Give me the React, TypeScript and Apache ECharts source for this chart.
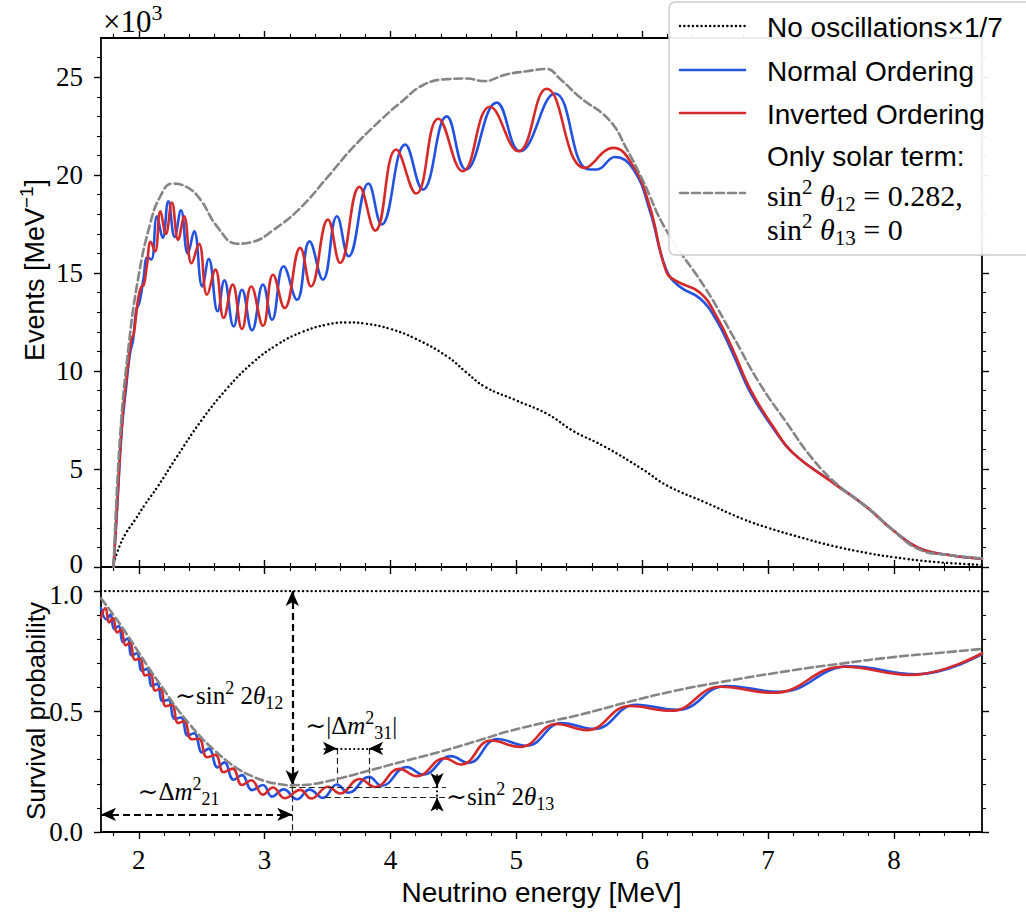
import React, { useEffect, useRef } from "react";
import * as echarts from "echarts";

// ---------------- data ----------------
const energyTicks = [2, 3, 4, 5, 6, 7, 8];
const eventTicks = [0, 5, 10, 15, 20, 25];
const probTicks = [0, 0.5, 1];

// top panel: events (x 10^3 per MeV)
const noOscEvents = [
  [1.79, 0], [1.85, 1.1], [1.9, 1.75], [1.97, 2.4], [2.05, 3.2], [2.15, 4.1], [2.3, 5.6], [2.5, 7.5],
  [2.7, 9.1], [2.9, 10.4], [3.1, 11.35], [3.3, 12.0], [3.5, 12.38], [3.65, 12.48], [3.8, 12.42],
  [4.0, 12.15], [4.2, 11.65], [4.45, 10.75], [4.6, 9.95], [4.75, 9.2], [5.0, 8.5], [5.25, 7.8],
  [5.45, 6.95], [5.7, 6.15], [6.0, 5.0], [6.2, 4.15], [6.5, 3.3], [6.8, 2.45], [7.0, 2.0],
  [7.25, 1.53], [7.5, 1.1], [7.8, 0.7], [8.0, 0.5], [8.3, 0.27], [8.7, 0.1],
];
const normalEvents = [
  [1.8, 0], [1.83, 3.2], [1.865, 7.0], [1.9, 9.2], [1.93, 10.9], [1.955, 11.6], [1.98, 13.1],
  [2.005, 13.5], [2.035, 14.6], [2.07, 15.8], [2.1, 15.7], [2.145, 17.9], [2.19, 16.8],
  [2.235, 18.67], [2.285, 16.85], [2.335, 18.2], [2.39, 16.0], [2.44, 17.13], [2.505, 14.32],
  [2.556, 15.72], [2.627, 13.05], [2.68, 14.63], [2.754, 12.28], [2.82, 14.15], [2.9, 12.08],
  [2.987, 14.41], [3.059, 12.62], [3.151, 15.35], [3.257, 13.64], [3.357, 16.62], [3.463, 14.67],
  [3.575, 17.9], [3.667, 15.86], [3.825, 19.57], [3.93, 17.48], [4.117, 21.56], [4.257, 19.26],
  [4.447, 23.0], [4.6, 20.29], [4.844, 23.7], [5.03, 21.22], [5.307, 24.17], [5.56, 20.32],
  [5.64, 20.29], [5.783, 20.93], [5.93, 20.3], [6.06, 18.2], [6.19, 15.2], [6.3, 14.3],
  [6.46, 13.7], [6.59, 12.6], [6.72, 10.9], [6.86, 8.9], [7.04, 7.1], [7.2, 5.8], [7.52, 4.3],
  [7.78, 3.08], [7.99, 1.9], [8.2, 0.96], [8.44, 0.61], [8.7, 0.42],
];
const invertedEvents = [
  [1.8, 0], [1.83, 3.4], [1.865, 7.2], [1.9, 9.5], [1.94, 11.6], [1.96, 11.9], [1.995, 13.7],
  [2.02, 14.3], [2.04, 14.4], [2.065, 15.4], [2.095, 16.6], [2.13, 16.1], [2.172, 18.16],
  [2.215, 17.0], [2.263, 18.6], [2.313, 16.7], [2.36, 17.9], [2.42, 15.5], [2.478, 16.5],
  [2.543, 13.9], [2.609, 15.18], [2.675, 12.71], [2.746, 14.41], [2.82, 12.15], [2.894, 14.32],
  [2.987, 12.31], [3.067, 14.92], [3.159, 13.22], [3.283, 16.29], [3.368, 14.32], [3.503, 17.73],
  [3.6, 15.52], [3.754, 19.4], [3.879, 17.17], [4.045, 21.31], [4.204, 19.06], [4.38, 22.88],
  [4.575, 20.2], [4.79, 23.49], [5.016, 21.22], [5.241, 24.41], [5.545, 20.37], [5.77, 21.39],
  [5.93, 20.45], [6.06, 18.4], [6.19, 15.1], [6.27, 14.6], [6.46, 14.0], [6.59, 12.8],
  [6.72, 11.1], [6.86, 9.05], [7.04, 7.17], [7.2, 5.81], [7.52, 4.28], [7.78, 3.08], [7.99, 1.89],
  [8.2, 0.96], [8.44, 0.61], [8.7, 0.42],
];
const solarEvents = [
  [1.8, 0], [1.85, 6.5], [1.92, 11.3], [2.0, 14.9], [2.09, 17.5], [2.17, 18.9], [2.265, 19.57],
  [2.38, 19.4], [2.49, 18.75], [2.62, 17.4], [2.78, 16.5], [2.91, 16.6], [3.07, 17.2], [3.28, 18.3],
  [3.5, 19.9], [3.7, 21.4], [3.92, 22.8], [4.08, 23.7], [4.26, 24.6], [4.45, 24.9], [4.61, 24.93],
  [4.74, 24.8], [4.92, 25.14], [5.08, 25.3], [5.24, 25.42], [5.35, 24.9], [5.5, 24.0], [5.74, 22.8],
  [5.88, 21.3], [6.0, 19.8], [6.19, 17.2], [6.51, 14.15], [6.72, 11.8], [6.93, 9.4], [7.15, 7.34],
  [7.36, 5.47], [7.57, 4.1], [7.78, 3.08], [7.99, 1.9], [8.2, 0.9], [8.44, 0.61], [8.7, 0.44],
];

// bottom panel: survival probability
const noOscProb = [[1.7, 1], [8.7, 1]];
const normalProb = [
  [1.7, 0.93], [1.745, 0.882], [1.775, 0.903], [1.805, 0.842], [1.84, 0.855], [1.875, 0.788],
  [1.91, 0.803], [1.945, 0.733], [1.985, 0.742], [2.025, 0.67], [2.066, 0.677], [2.105, 0.606],
  [2.145, 0.615], [2.19, 0.543], [2.235, 0.549], [2.285, 0.47], [2.335, 0.475], [2.39, 0.4],
  [2.44, 0.41], [2.505, 0.33], [2.556, 0.346], [2.627, 0.268], [2.68, 0.289], [2.754, 0.217],
  [2.82, 0.236], [2.9, 0.174], [2.987, 0.195], [3.059, 0.147], [3.151, 0.177], [3.257, 0.136],
  [3.357, 0.176], [3.463, 0.142], [3.575, 0.197], [3.667, 0.163], [3.83, 0.229], [3.93, 0.192],
  [4.13, 0.27], [4.26, 0.238], [4.48, 0.315], [4.62, 0.287], [4.85, 0.386], [5.08, 0.358],
  [5.36, 0.452], [5.62, 0.428], [5.95, 0.528], [6.28, 0.507], [6.67, 0.606], [7.09, 0.582],
  [7.65, 0.688], [8.18, 0.655], [8.7, 0.738],
];
const invertedProb = [
  [1.7, 0.89], [1.735, 0.93], [1.765, 0.87], [1.795, 0.888], [1.828, 0.828], [1.86, 0.84],
  [1.895, 0.775], [1.93, 0.785], [1.97, 0.715], [2.01, 0.72], [2.05, 0.65], [2.093, 0.655],
  [2.13, 0.587], [2.172, 0.595], [2.215, 0.522], [2.263, 0.528], [2.313, 0.452], [2.36, 0.46],
  [2.42, 0.385], [2.478, 0.387], [2.543, 0.31], [2.609, 0.32], [2.675, 0.248], [2.746, 0.263],
  [2.82, 0.195], [2.894, 0.215], [2.987, 0.155], [3.067, 0.185], [3.159, 0.14], [3.283, 0.175],
  [3.37, 0.139], [3.503, 0.188], [3.6, 0.16], [3.754, 0.22], [3.879, 0.187], [4.07, 0.262],
  [4.21, 0.232], [4.43, 0.306], [4.56, 0.28], [4.8, 0.38], [5.03, 0.353], [5.32, 0.448],
  [5.56, 0.423], [5.9, 0.523], [6.23, 0.503], [6.62, 0.603], [7.04, 0.578], [7.6, 0.686],
  [8.13, 0.652], [8.7, 0.742],
];
const solarProb = [
  [1.7, 0.97], [1.8, 0.9], [1.9, 0.825], [2.0, 0.745], [2.1, 0.665], [2.2, 0.59], [2.3, 0.515],
  [2.4, 0.45], [2.5, 0.39], [2.6, 0.34], [2.7, 0.295], [2.8, 0.258], [2.9, 0.232], [3.0, 0.212],
  [3.1, 0.2], [3.2, 0.194], [3.3, 0.195], [3.4, 0.2], [3.6, 0.223], [3.81, 0.252], [4.1, 0.293],
  [4.394, 0.333], [4.7, 0.38], [4.952, 0.42], [5.25, 0.457], [5.509, 0.487], [5.898, 0.541],
  [6.25, 0.585], [6.622, 0.622], [7.18, 0.67], [7.597, 0.7], [8.013, 0.727], [8.35, 0.743],
  [8.7, 0.76],
];

// annotation geometry (data coordinates of the lower panel)
const annThickArrows = [
  [[3.22, 1.0], [3.22, 0.194]],
  [[1.7, 0.073], [3.22, 0.073]],
];
const annThinLines = [
  [[3.22, 0.19], [3.22, 0.0]],
  [[3.575, 0.347], [3.575, 0.187]],
  [[3.83, 0.347], [3.83, 0.187]],
  [[3.2, 0.187], [4.44, 0.187]],
  [[3.48, 0.143], [4.44, 0.143]],
];
const annShortArrows = [
  [[3.47, 0.347], [3.575, 0.347]],
  [[3.94, 0.347], [3.83, 0.347]],
  [[4.37, 0.24], [4.37, 0.187]],
  [[4.37, 0.09], [4.37, 0.143]],
];
const annDotted = [
  [[3.575, 0.347], [3.83, 0.347]],
  [[4.37, 0.187], [4.37, 0.143]],
];

// ---------------- styling ----------------
const SERIF = "'Liberation Serif', 'DejaVu Serif', serif";
const SANS = "'Liberation Sans', 'DejaVu Sans', sans-serif";
const BLUE = "#2352e0";
const RED = "#d62a2a";
const GRAY = "#858585";
const DOTS = [0.1, 4.2];

const axisLineStyle = { color: "#000", width: 1.8 };

function xAxisOpt(gridIndex: number, position: string, labels: boolean) {
  return {
    type: "value",
    gridIndex,
    position,
    min: 1.7,
    max: 8.7,
    minInterval: 1,
    maxInterval: 1,
    axisLine: { show: true, onZero: false, lineStyle: axisLineStyle },
    axisTick: { show: true, inside: false, length: 7, customValues: energyTicks, lineStyle: { color: "#000", width: 1.4 } },
    minorTick: { show: true, splitNumber: 5, length: 4, lineStyle: { color: "#000", width: 1.1 } },
    axisLabel: {
      show: labels,
      customValues: energyTicks,
      margin: 17,
      color: "#000",
      fontFamily: SERIF,
      fontSize: 27,
      lineHeight: 22,
      formatter: (v: number) => String(v),
    },
    splitLine: { show: false },
    minorSplitLine: { show: false },
  };
}

function yAxisOpt(gridIndex: number, position: string, labels: boolean, max: number, step: number, ticks: number[], fmt: (v: number) => string, rich: any) {
  return {
    type: "value",
    gridIndex,
    position,
    min: 0,
    max,
    minInterval: step,
    maxInterval: step,
    axisLine: { show: true, onZero: false, lineStyle: axisLineStyle },
    axisTick: { show: true, inside: false, length: 7, customValues: ticks, lineStyle: { color: "#000", width: 1.4 } },
    minorTick: { show: true, splitNumber: 5, length: 4, lineStyle: { color: "#000", width: 1.1 } },
    axisLabel: {
      show: labels,
      customValues: ticks,
      margin: 18,
      color: "#000",
      fontFamily: SERIF,
      fontSize: 27,
      lineHeight: 21,
      formatter: fmt,
      rich,
    },
    splitLine: { show: false },
    minorSplitLine: { show: false },
  };
}

function lineSeries(name: string, data: number[][], gi: number, color: string, width: number, type: any, z: number) {
  return {
    name,
    type: "line",
    data,
    xAxisIndex: gi * 2,
    yAxisIndex: gi * 2,
    showSymbol: false,
    symbol: "none",
    smooth: 0.45,
    clip: true,
    silent: true,
    lineStyle: { color, width, type, cap: "round" },
    emphasis: { disabled: true },
    z,
  };
}

function markSeries(lines: number[][][], style: any, symbol: any, symbolSize: any) {
  return {
    type: "line",
    data: [],
    xAxisIndex: 2,
    yAxisIndex: 2,
    silent: true,
    z: 10,
    markLine: {
      silent: true,
      animation: false,
      symbol,
      symbolSize,
      label: { show: false },
      emphasis: { disabled: true },
      lineStyle: style,
      data: lines.map((l) => [{ coord: l[0] }, { coord: l[1] }]),
    },
  };
}

const labelRich = {
  up: { fontFamily: SERIF, fontSize: 27, color: "#000", padding: [0, 0, 7, 0] },
  down: { fontFamily: SERIF, fontSize: 27, color: "#000", padding: [7, 0, 0, 0] },
};

function buildOption() {
  return {
    animation: false,
    backgroundColor: "#fff",
    textStyle: { fontFamily: SANS },
    grid: [
      { left: 101, top: 38, width: 881, height: 529, containLabel: false, outerBoundsMode: "none" },
      { left: 101, top: 567, width: 881, height: 265, containLabel: false, outerBoundsMode: "none" },
    ],
    xAxis: [
      xAxisOpt(0, "bottom", false),
      xAxisOpt(0, "top", false),
      xAxisOpt(1, "bottom", true),
      xAxisOpt(1, "top", false),
    ],
    yAxis: [
      yAxisOpt(0, "left", true, 27, 5, eventTicks, (v: number) => (v === 0 ? "{up|0}" : String(v)), labelRich),
      yAxisOpt(0, "right", false, 27, 5, eventTicks, (v: number) => String(v), labelRich),
      yAxisOpt(1, "left", true, 1.1, 0.5, probTicks, (v: number) => (v === 1 ? "{down|1.0}" : v.toFixed(1)), labelRich),
      yAxisOpt(1, "right", false, 1.1, 0.5, probTicks, (v: number) => v.toFixed(1), labelRich),
    ],
    series: [
      lineSeries("No oscillations×1/7", noOscEvents, 0, "#000", 2.4, DOTS, 2),
      lineSeries("Normal Ordering", normalEvents, 0, BLUE, 2.6, "solid", 3),
      lineSeries("Inverted Ordering", invertedEvents, 0, RED, 2.6, "solid", 4),
      lineSeries("Only solar term", solarEvents, 0, GRAY, 2.6, [8, 4], 5),
      lineSeries("No oscillations", noOscProb, 1, "#000", 2.4, DOTS, 2),
      lineSeries("Normal Ordering P", normalProb, 1, BLUE, 2.6, "solid", 3),
      lineSeries("Inverted Ordering P", invertedProb, 1, RED, 2.6, "solid", 4),
      lineSeries("Only solar term P", solarProb, 1, GRAY, 2.6, [8, 4], 5),
      markSeries(annThickArrows, { color: "#000", width: 2.2, type: [7, 4] }, ["arrow", "arrow"], [10, 15]),
      markSeries(annThinLines, { color: "#222", width: 1.2, type: [6, 3.5] }, ["none", "none"], 0),
      markSeries(annShortArrows, { color: "#000", width: 1.6, type: "solid" }, ["none", "arrow"], [10, 14]),
      markSeries(annDotted, { color: "#000", width: 2.2, type: DOTS, cap: "round" }, ["none", "none"], 0),
    ],
  };
}

const mathRich = (size: number) => ({
  r: { fontFamily: SERIF, fontSize: size, lineHeight: size + 8, verticalAlign: "middle" },
  i: { fontFamily: SERIF, fontSize: size, fontStyle: "italic", lineHeight: size + 8, verticalAlign: "middle" },
  sup: { fontFamily: SERIF, fontSize: Math.round(size * 0.7), lineHeight: Math.round(size * 0.75), verticalAlign: "top" },
  sub: { fontFamily: SERIF, fontSize: Math.round(size * 0.7), lineHeight: Math.round(size * 0.75), verticalAlign: "bottom" },
});

function buildGraphics(toPx: (p: number[]) => number[]) {
  const ann = (pt: number[], text: string, align: string) => {
    const [x, y] = toPx(pt);
    return {
      type: "text",
      x,
      y,
      z: 50,
      silent: true,
      style: { text, rich: mathRich(25), fill: "#000", fontFamily: SERIF, fontSize: 25, align, verticalAlign: "middle" },
    };
  };
  const legendText = (y: number, text: string) => ({
    type: "text",
    x: 767,
    y,
    z: 101,
    silent: true,
    style: { text, fill: "#000", fontFamily: SANS, fontSize: 28, align: "left", verticalAlign: "middle" },
  });
  const legendMath = (y: number, text: string) => ({
    type: "text",
    x: 767,
    y,
    z: 101,
    silent: true,
    style: { text, rich: mathRich(30), fill: "#000", fontFamily: SERIF, fontSize: 30, align: "left", verticalAlign: "middle" },
  });
  const sample = (y: number, stroke: string, lineWidth: number, lineDash: any) => ({
    type: "line",
    z: 101,
    silent: true,
    shape: { x1: 680, y1: y, x2: 745, y2: y },
    style: { stroke, lineWidth, lineDash, lineCap: "round" },
  });
  return [
    // annotation texts
    ann([3.148, 0.568], "{r|∼sin}{sup|2}{r| 2}{i|θ}{sub|12}", "right"),
    ann([1.99, 0.168], "{r|∼Δ}{i|m}{sup|2}{sub|21}", "left"),
    ann([3.323, 0.444], "{r|∼|Δ}{i|m}{sup|2}{sub|31}{r||}", "left"),
    ann([4.442, 0.146], "{r|∼sin}{sup|2}{r| 2}{i|θ}{sub|13}", "left"),
    // axis titles
    {
      type: "text",
      x: 35,
      y: 270,
      rotation: Math.PI / 2,
      z: 50,
      silent: true,
      style: {
        text: "{s|Events [MeV}{sp|−1}{s|]}",
        rich: {
          s: { fontFamily: SANS, fontSize: 27, lineHeight: 36, verticalAlign: "middle" },
          sp: { fontFamily: SANS, fontSize: 19, lineHeight: 20, verticalAlign: "top" },
        },
        fill: "#000",
        align: "center",
        verticalAlign: "middle",
      },
    },
    {
      type: "text",
      x: 36,
      y: 711,
      rotation: Math.PI / 2,
      z: 50,
      silent: true,
      style: { text: "Survival probability", fill: "#000", fontFamily: SANS, fontSize: 26, align: "center", verticalAlign: "middle" },
    },
    {
      type: "text",
      x: 541.5,
      y: 892,
      z: 50,
      silent: true,
      style: { text: "Neutrino energy [MeV]", fill: "#000", fontFamily: SANS, fontSize: 28, lineHeight: 26, align: "center", verticalAlign: "middle" },
    },
    {
      type: "text",
      x: 103,
      y: 21,
      z: 50,
      silent: true,
      style: { text: "{r|×10}{sup|3}", rich: mathRich(31), fill: "#000", fontFamily: SERIF, fontSize: 31, align: "left", verticalAlign: "middle" },
    },
    // legend
    {
      type: "rect",
      z: 100,
      silent: true,
      shape: { x: 669, y: 2, width: 400, height: 253, r: 6 },
      style: { fill: "rgba(255,255,255,0.93)", stroke: "#cccccc", lineWidth: 1.5 },
    },
    sample(26, "#000", 2.4, DOTS),
    sample(70, BLUE, 2.6, null),
    sample(113, RED, 2.6, null),
    sample(193, GRAY, 2.6, [8, 4]),
    legendText(27, "No oscillations×1/7"),
    legendText(71, "Normal Ordering"),
    legendText(114, "Inverted Ordering"),
    legendText(156, "Only solar term:"),
    legendMath(195, "{r|sin}{sup|2}{i| θ}{sub|12}{r| = 0.282,}"),
    legendMath(229, "{r|sin}{sup|2}{i| θ}{sub|13}{r| = 0}"),
  ];
}

export default function App() {
  const ref = useRef<HTMLDivElement>(null);
  useEffect(() => {
    const el = ref.current;
    if (!el) return;
    const chart = echarts.init(el, null, { renderer: "svg" });
    chart.setOption(buildOption() as any);
    const toPx = (p: number[]) => chart.convertToPixel({ gridIndex: 1 } as any, p) as unknown as number[];
    chart.setOption({ graphic: buildGraphics(toPx) } as any);
    return () => chart.dispose();
  }, []);
  return <div ref={ref} style={{ position: "absolute", left: 0, top: 0, width: 1026, height: 919 }} />;
}
